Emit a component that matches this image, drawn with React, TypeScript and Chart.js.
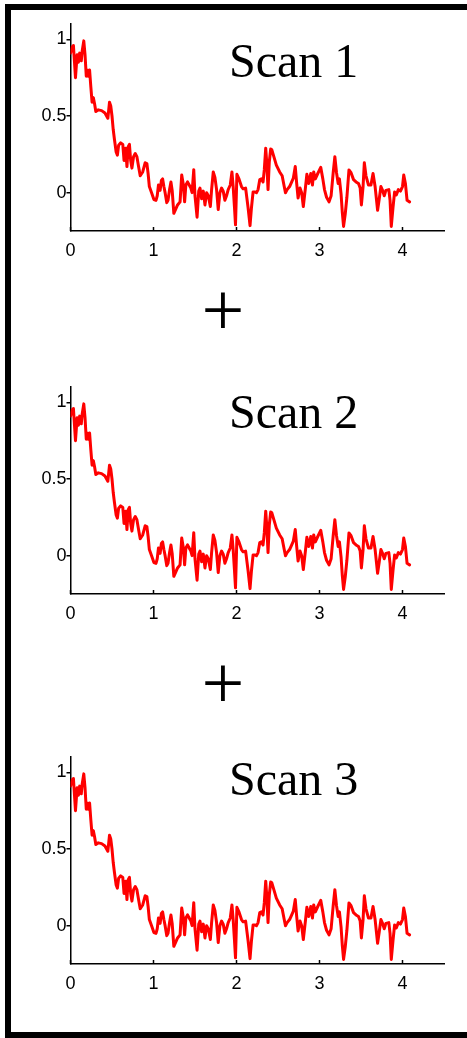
import React, { useEffect, useRef } from "react";
import { Chart, registerables } from "chart.js";

Chart.register(...registerables);

// ---- data (identical in all three scans) ----
const timeValues = [
  0.0, 0.02, 0.035, 0.06, 0.08, 0.095, 0.11, 0.13, 0.14, 0.16,
  0.175, 0.19, 0.2, 0.215, 0.23, 0.245, 0.26, 0.275, 0.29, 0.305,
  0.335, 0.375, 0.415, 0.45, 0.47, 0.485, 0.5, 0.515, 0.53, 0.55,
  0.565, 0.58, 0.605, 0.63, 0.645, 0.665, 0.68, 0.695, 0.71, 0.725,
  0.74, 0.76, 0.78, 0.8, 0.82, 0.84, 0.87, 0.9, 0.92, 0.935,
  0.95, 0.98, 1.005, 1.03, 1.045, 1.06, 1.08, 1.095, 1.11, 1.125,
  1.14, 1.16, 1.175, 1.195, 1.21, 1.225, 1.245, 1.265, 1.29, 1.32,
  1.34, 1.36, 1.375, 1.39, 1.41, 1.43, 1.45, 1.465, 1.485, 1.5,
  1.525, 1.545, 1.56, 1.58, 1.6, 1.62, 1.64, 1.66, 1.685, 1.7,
  1.72, 1.74, 1.76, 1.78, 1.8, 1.82, 1.84, 1.86, 1.88, 1.9,
  1.925, 1.945, 1.96, 1.975, 1.988, 2.005, 2.03, 2.06, 2.08, 2.11,
  2.14, 2.163, 2.18, 2.2, 2.22, 2.24, 2.26, 2.28, 2.3, 2.32,
  2.335, 2.352, 2.365, 2.38, 2.395, 2.412, 2.425, 2.45, 2.48, 2.52,
  2.55, 2.575, 2.59, 2.61, 2.64, 2.685, 2.708, 2.725, 2.742, 2.765,
  2.785, 2.805, 2.83, 2.848, 2.87, 2.895, 2.915, 2.93, 2.95, 2.975,
  3.015, 3.04, 3.06, 3.085, 3.115, 3.14, 3.165, 3.185, 3.205, 3.225,
  3.24, 3.26, 3.275, 3.29, 3.31, 3.33, 3.355, 3.38, 3.41, 3.44,
  3.47, 3.49, 3.505, 3.525, 3.54, 3.56, 3.59, 3.62, 3.645, 3.67,
  3.7, 3.72, 3.74, 3.76, 3.78, 3.8, 3.835, 3.85, 3.865, 3.885,
  3.905, 3.925, 3.95, 3.975, 4.0, 4.015, 4.035, 4.055, 4.085,
];

const signalValues = [
  0.91, 0.95, 0.96, 0.75, 0.9, 0.85, 0.91, 0.86, 0.92, 0.99,
  0.9, 0.76, 0.8, 0.76, 0.8, 0.69, 0.59, 0.62, 0.58, 0.53,
  0.54, 0.535, 0.52, 0.485, 0.59, 0.565, 0.5, 0.41, 0.345, 0.265,
  0.245, 0.31, 0.325, 0.315, 0.21, 0.29, 0.17, 0.3, 0.315, 0.21,
  0.16, 0.235, 0.255, 0.235, 0.17, 0.11, 0.135, 0.195, 0.19, 0.125,
  0.04, -0.005, -0.045, -0.05, -0.02, 0.05, 0.015, 0.08, 0.09, 0.04,
  0.0, -0.065, -0.05, 0.025, 0.07, 0.015, -0.135, -0.11, -0.08, -0.06,
  0.115, 0.05, -0.06, 0.05, 0.07, 0.05, 0.03, 0.0, 0.15, -0.02,
  -0.16, 0.01, 0.03, -0.04, 0.01, -0.08, 0.0, -0.02, -0.09, 0.02,
  0.135, 0.1, 0.02, -0.11, 0.0, 0.03, 0.01, -0.05, -0.02, 0.02,
  0.05, 0.135, 0.04, -0.09, -0.21, 0.12, 0.09, 0.04, 0.025, 0.03,
  -0.1, -0.215, -0.1, 0.005, 0.005, 0.0, 0.02, 0.085, 0.09, 0.07,
  0.15, 0.29, 0.19, 0.02, 0.2, 0.285, 0.28, 0.235, 0.18, 0.135,
  0.11, 0.04, 0.0, 0.02, 0.04, 0.095, 0.17, 0.06, -0.035, 0.03,
  0.0, -0.09, 0.03, 0.12, 0.06, 0.125, 0.05, 0.135, 0.09, 0.12,
  0.165, 0.09, 0.02, -0.03, -0.06, -0.02, 0.13, 0.235, 0.13, 0.06,
  0.09, -0.01, -0.13, -0.22, -0.14, -0.03, 0.148, 0.13, 0.085, 0.07,
  0.06, 0.03, -0.08, 0.04, 0.195, 0.11, 0.05, 0.05, 0.125, 0.04,
  -0.115, -0.04, 0.04, 0.015, -0.02, 0.015, 0.02, -0.05, -0.22, -0.1,
  0.005, -0.015, 0.02, 0.01, 0.04, 0.115, 0.06, -0.05, -0.06,
];

const xTickValues = [0, 1, 2, 3, 4];
const xTickLabels = ["0", "1", "2", "3", "4"];
const yTickValues = [0, 0.5, 1];
const yTickLabels = ["0", "0.5", "1"];
const scanTitles = ["Scan 1", "Scan 2", "Scan 3"];

// ---- layout (not data) ----
const CANVAS_W = 467;
const CANVAS_H = 260;
const panelTops = [0, 363, 733];
const titleBaselines = [77, 428, 795];
const plusCenters = [315, 688];

const tickFont = { family: '"Liberation Sans", Arial, sans-serif', size: 18 };

const inwardXTicks = {
  id: "inwardXTicks",
  afterDraw(chart: any) {
    const { ctx, chartArea, scales } = chart;
    const xs = scales.x;
    ctx.save();
    ctx.strokeStyle = "#000";
    ctx.lineWidth = 1.5;
    xTickValues.forEach((v) => {
      const px = xs.getPixelForValue(v);
      ctx.beginPath();
      ctx.moveTo(px, chartArea.bottom);
      ctx.lineTo(px, chartArea.bottom - 4);
      ctx.stroke();
    });
    ctx.restore();
  },
};

function ScanPlot({ top }: { top: number }) {
  const ref = useRef<HTMLCanvasElement | null>(null);
  useEffect(() => {
    if (!ref.current) return;
    const chart = new Chart(ref.current, {
      type: "line",
      data: {
        datasets: [
          {
            data: timeValues.map((t, i) => ({ x: t, y: signalValues[i] })),
            borderColor: "#ff0000",
            borderWidth: 3,
            borderJoinStyle: "round",
            borderCapStyle: "round",
            pointRadius: 0,
            tension: 0,
            fill: false,
          },
        ],
      },
      options: {
        animation: false,
        responsive: false,
        maintainAspectRatio: false,
        layout: { padding: { top: 24, right: 23, left: 0, bottom: 0 } },
        plugins: {
          legend: { display: false },
          tooltip: { enabled: false },
          title: { display: false },
        },
        scales: {
          x: {
            type: "linear",
            min: 0,
            max: 4.5,
            afterBuildTicks: (s: any) => {
              s.ticks = xTickValues.map((v) => ({ value: v }));
            },
            afterFit: (s: any) => {
              s.height = 29;
            },
            grid: { display: false },
            border: { display: true, color: "#000", width: 1.5 },
            ticks: {
              callback: (_v: any, i: number) => xTickLabels[i],
              padding: 1,
              color: "#000",
              font: tickFont,
              maxRotation: 0,
              autoSkip: false,
            },
          },
          y: {
            type: "linear",
            min: -0.25,
            max: 1.1,
            afterBuildTicks: (s: any) => {
              s.ticks = yTickValues.map((v) => ({ value: v }));
            },
            afterFit: (s: any) => {
              s.width = 70.5;
            },
            grid: {
              display: true,
              drawOnChartArea: false,
              drawTicks: true,
              tickLength: 4,
              color: "#000",
              lineWidth: 1.5,
            },
            border: { display: true, color: "#000", width: 1.5 },
            ticks: {
              callback: (_v: any, i: number) => yTickLabels[i],
              padding: 0,
              color: "#000",
              font: tickFont,
              autoSkip: false,
            },
          },
        },
      },
      plugins: [inwardXTicks],
    } as any);
    return () => chart.destroy();
  }, []);
  return (
    <canvas
      ref={ref}
      width={CANVAS_W}
      height={CANVAS_H}
      style={{ position: "absolute", left: 0, top, width: CANVAS_W, height: CANVAS_H }}
    />
  );
}

export default function App() {
  const serif = '"Liberation Serif", "Times New Roman", serif';
  return (
    <div
      style={{
        position: "fixed",
        left: 0,
        top: 0,
        width: 467,
        height: 1038,
        overflow: "hidden",
        background: "#fff",
      }}
    >
      <div
        style={{
          position: "absolute",
          left: 5,
          top: 4,
          width: 480,
          height: 1034,
          boxSizing: "border-box",
          border: "6px solid #000",
        }}
      />
      {panelTops.map((t, i) => (
        <ScanPlot key={i} top={t} />
      ))}
      {scanTitles.map((s, i) => (
        <div
          key={s}
          style={{
            position: "absolute",
            left: 229,
            top: titleBaselines[i] - 40.2,
            fontFamily: serif,
            fontSize: 48,
            lineHeight: "48px",
            whiteSpace: "nowrap",
            color: "#000",
          }}
        >
          {s}
        </div>
      ))}
      {plusCenters.map((c, i) => (
        <div
          key={i}
          style={{
            position: "absolute",
            left: 201.6,
            top: c + 19.2 - 63.65,
            fontFamily: serif,
            fontSize: 76,
            lineHeight: "76px",
            whiteSpace: "nowrap",
            color: "#000",
          }}
        >
          +
        </div>
      ))}
    </div>
  );
}
